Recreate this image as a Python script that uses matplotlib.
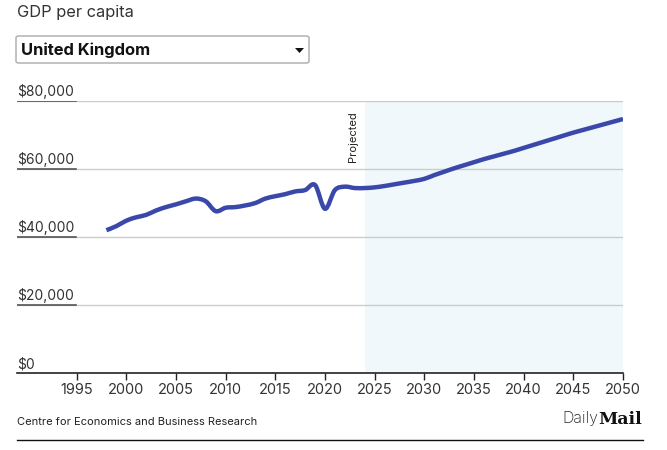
import matplotlib.pyplot as plt
from matplotlib.patches import FancyBboxPatch, Polygon, PathPatch
from matplotlib.path import Path

plt.rcParams['font.family'] = ['Inter', 'DejaVu Sans']

years = list(range(1998, 2051))
gdp = [42.0, 43.2, 44.8, 45.8, 46.5, 47.8, 48.8, 49.6, 50.5, 51.3,
       50.5, 47.6, 48.6, 48.8, 49.3, 50.0, 51.3, 52.0, 52.6, 53.4,
       53.8, 55.3, 48.3, 53.8, 54.8, 54.4,
       54.4, 54.6, 55.0, 55.5, 56.0, 56.5, 57.1, 58.2, 59.2, 60.2,
       61.1, 62.0, 62.9, 63.7, 64.5, 65.3, 66.2, 67.1, 68.0, 68.9,
       69.8, 70.7, 71.5, 72.3, 73.1, 73.9, 74.7]
gdp = [v * 1000 for v in gdp]

x_ticks = list(range(1995, 2051, 5))
y_ticks = [0, 20000, 40000, 60000, 80000]
y_labels = ['$0', '$20,000', '$40,000', '$60,000', '$80,000']
proj_start = 2024


def smooth_path(xs, ys):
    # cubic bezier segments through the points (catmull-rom style tangents)
    verts = [(xs[0], ys[0])]
    codes = [Path.MOVETO]
    n = len(xs)
    for i in range(n - 1):
        x0, y0 = (xs[i - 1], ys[i - 1]) if i > 0 else (xs[i], ys[i])
        x1, y1 = xs[i], ys[i]
        x2, y2 = xs[i + 1], ys[i + 1]
        x3, y3 = (xs[i + 2], ys[i + 2]) if i + 2 < n else (x2, y2)
        c1 = (x1 + (x2 - x0) / 6, y1 + (y2 - y0) / 6)
        c2 = (x2 - (x3 - x1) / 6, y2 - (y3 - y1) / 6)
        verts += [c1, c2, (x2, y2)]
        codes += [Path.CURVE4] * 3
    return Path(verts, codes)


fig = plt.figure(figsize=(6.67, 4.5), dpi=100)
ax = fig.add_axes([17/667, 1 - 373/450, 606/667, 272/450])

ax.axvspan(proj_start, 2050, color='#f0f8fb', lw=0, zorder=0)
for yv in y_ticks[1:]:
    ax.axhline(yv, color='#cccccc', lw=1, zorder=1)
    ax.axhline(yv, xmin=0, xmax=59/606, color='#555555', lw=1.2, zorder=2)

for yv, lab in zip(y_ticks, y_labels):
    ax.text(1989, yv + 500, lab, fontsize=10, color='#333333',
            ha='left', va='bottom')

ax.add_patch(PathPatch(smooth_path(years, gdp), fc='none', ec='#3a48aa',
                       lw=3.2, capstyle='butt', joinstyle='round', zorder=3))

ax.text(2022.85, 62000, 'Projected', rotation=90, fontsize=8,
        color='#222222', ha='center', va='bottom')

ax.set_xlim(1989, 2050)
ax.set_ylim(0, 80000)
ax.set_xticks(x_ticks)
ax.set_xticklabels([str(t) for t in x_ticks], fontsize=10.5, color='#333333')
ax.set_yticks([])
ax.tick_params(axis='x', length=5, width=1, color='#222222', pad=2)
for s in ['top', 'right', 'left']:
    ax.spines[s].set_visible(False)
ax.spines['bottom'].set_color('#222222')
ax.spines['bottom'].set_linewidth(1.2)

# header
fig.text(17/667, 1 - 12/450, 'GDP per capita', fontsize=11.8,
         color='#333333', ha='left', va='center')
box = FancyBboxPatch((16/667, 1 - 63/450), 293/667, 27/450,
                     boxstyle='round,pad=0,rounding_size=0.004',
                     transform=fig.transFigure, fc='white', ec='#aaaaaa',
                     lw=1)
fig.patches.append(box)
fig.text(21/667, 1 - 50/450, 'United Kingdom', fontsize=11.9,
         fontweight='bold', color='#111111', ha='left', va='center')
tri = Polygon([[295/667, 1 - 48/450], [304/667, 1 - 48/450],
               [299.5/667, 1 - 53/450]], closed=True,
              transform=fig.transFigure, fc='#111111', ec='none')
fig.patches.append(tri)

# footer
fig.text(17/667, 1 - 422/450, 'Centre for Economics and Business Research',
         fontsize=8, color='#222222', ha='left', va='center')
fig.text(598/667, 1 - 419/450, 'Daily', fontsize=11.5, fontweight='light',
         color='#222222', ha='right', va='center')
fig.text(598/667, 1 - 419/450, 'Mail', fontsize=12.5, fontweight='bold',
         family='DejaVu Serif', color='#111111', ha='left', va='center')
fig.add_artist(plt.Line2D([17/667, 643/667], [1 - 440/450, 1 - 440/450],
                          color='#111111', lw=1, transform=fig.transFigure))

fig.savefig('out.png', dpi=100)
